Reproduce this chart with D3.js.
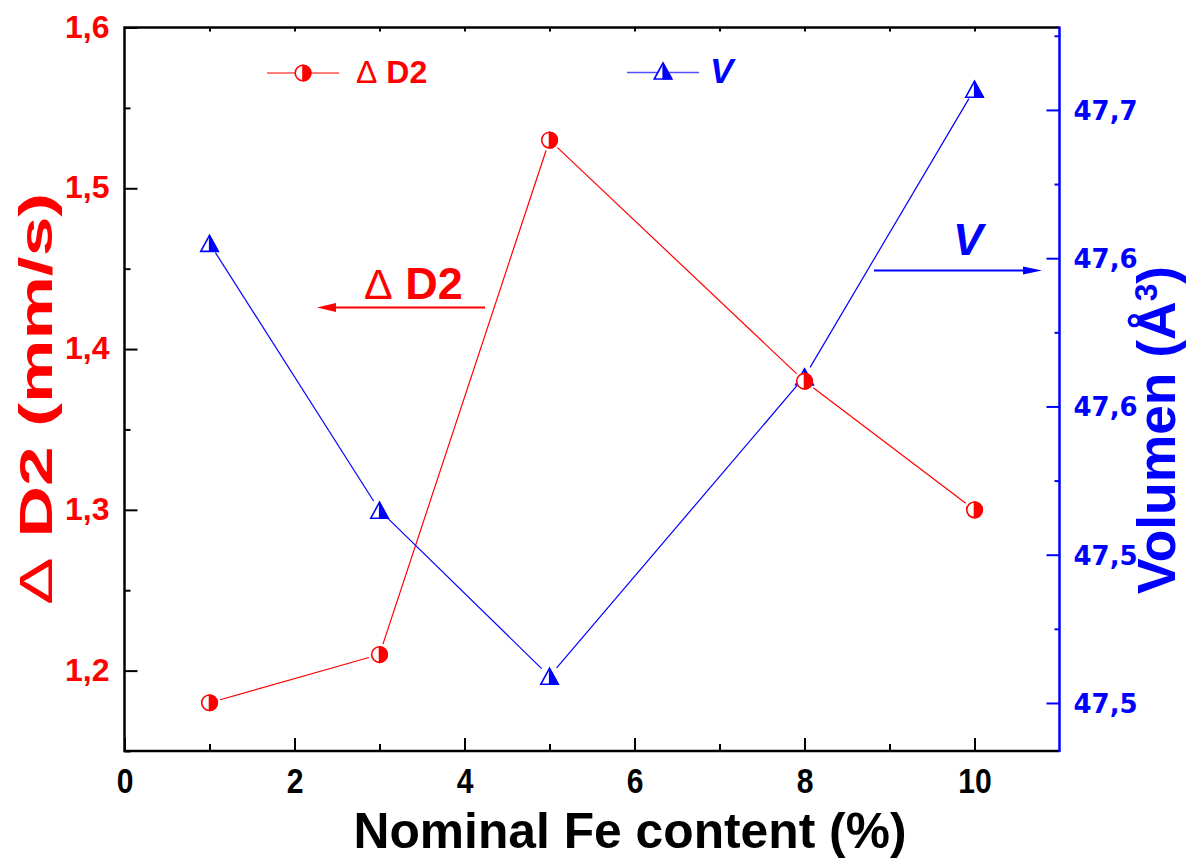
<!DOCTYPE html>
<html>
<head>
<meta charset="utf-8">
<script src="https://cdn.jsdelivr.net/npm/d3@7/dist/d3.min.js"></script>
<style>
  html, body { margin: 0; padding: 0; background: #fff; }
  svg { display: block; }
  text { font-family: "Liberation Sans", Arial, sans-serif; }
</style>
</head>
<body>
<svg id="chart" width="1192" height="860"></svg>
<script>
// Fe content of the samples (%)
const feContent = [1, 3, 5, 8, 10];
// Quadrupole splitting of doublet D2 (mm/s)
const deltaD2 = [1.18, 1.21, 1.53, 1.38, 1.30];
// Unit cell volume (Å³)
const volumen = [47.655, 47.565, 47.509, 47.610, 47.707];

// Axis ticks and labels
const xMajorTicks = [0, 2, 4, 6, 8, 10];
const xMinorTicks = [1, 3, 5, 7, 9];
const leftTicks = [1.2, 1.3, 1.4, 1.5, 1.6];
const leftTickLabels = ["1,2", "1,3", "1,4", "1,5", "1,6"];
const leftMinorTicks = [1.15, 1.25, 1.35, 1.45, 1.55];
const rightTicks = [47.50, 47.55, 47.60, 47.65, 47.70];
const rightTickLabels = ["47,5", "47,5", "47,6", "47,6", "47,7"];
const rightMinorTicks = [47.525, 47.575, 47.625, 47.675, 47.725];

const RED = "#ff0000";
const BLUE = "#0000ff";

const svg = d3.select("#chart");

const plotLeft = 124.5, plotRight = 1059.5, plotTop = 27.5, plotBottom = 751;

const x = d3.scaleLinear().domain([0, 11]).range([plotLeft, plotRight]);
const yL = d3.scaleLinear().domain([1.15, 1.6]).range([plotBottom, plotTop]);
const yR = d3.scaleLinear().domain([47.4838, 47.7278]).range([plotBottom, plotTop]);

// ---- axes ----
const xAxis = svg.append("g").attr("transform", `translate(0,${plotBottom})`)
  .call(d3.axisBottom(x).tickValues(xMajorTicks).tickSizeInner(-13).tickSizeOuter(0)
    .tickPadding(17).tickFormat(d3.format("d")));
xAxis.select(".domain").remove();
xAxis.selectAll("line").attr("stroke", "#000").attr("stroke-width", 2);
xAxis.selectAll("text").attr("fill", "#000").attr("transform", "scale(0.86,1)")
  .style("font-weight", "bold").style("font-size", "35px");

const xMinor = svg.append("g").attr("transform", `translate(0,${plotBottom})`)
  .call(d3.axisBottom(x).tickValues(xMinorTicks).tickSizeInner(-7).tickSizeOuter(0).tickFormat(""));
xMinor.select(".domain").remove();
xMinor.selectAll("line").attr("stroke", "#000").attr("stroke-width", 2);

// top axis: short inward ticks
const xTop = svg.append("g").attr("transform", `translate(0,${plotTop})`)
  .call(d3.axisTop(x).tickValues(d3.range(1, 11)).tickSizeInner(-4).tickSizeOuter(0).tickFormat(""));
xTop.select(".domain").remove();
xTop.selectAll("line").attr("stroke", "#000").attr("stroke-width", 2);

const yAxisL = svg.append("g").attr("transform", `translate(${plotLeft},0)`)
  .call(d3.axisLeft(yL).tickValues(leftTicks).tickSizeInner(-13).tickSizeOuter(0)
    .tickPadding(15).tickFormat((d, i) => leftTickLabels[i]));
yAxisL.select(".domain").remove();
yAxisL.selectAll("line").attr("stroke", "#000").attr("stroke-width", 2);
yAxisL.selectAll("text").attr("fill", RED).attr("dy", "0.3em")
  .style("font-weight", "bold").style("font-size", "32px");

const yMinorL = svg.append("g").attr("transform", `translate(${plotLeft},0)`)
  .call(d3.axisLeft(yL).tickValues(leftMinorTicks).tickSizeInner(-6).tickSizeOuter(0).tickFormat(""));
yMinorL.select(".domain").remove();
yMinorL.selectAll("line").attr("stroke", "#000").attr("stroke-width", 2);

const yAxisR = svg.append("g").attr("transform", `translate(${plotRight},0)`)
  .call(d3.axisRight(yR).tickValues(rightTicks).tickSizeInner(-13).tickSizeOuter(0)
    .tickPadding(14).tickFormat((d, i) => rightTickLabels[i]));
yAxisR.select(".domain").remove();
yAxisR.selectAll("line").attr("stroke", BLUE).attr("stroke-width", 2);
yAxisR.selectAll("text").attr("fill", BLUE).attr("dy", "0.36em")
  .style("font-family", "'DejaVu Sans', Verdana, sans-serif")
  .style("font-weight", "bold").style("font-size", "26px");

const yMinorR = svg.append("g").attr("transform", `translate(${plotRight},0)`)
  .call(d3.axisRight(yR).tickValues(rightMinorTicks.filter(v => yR(v) > plotTop + 2))
    .tickSizeInner(-5).tickSizeOuter(0).tickFormat(""));
yMinorR.select(".domain").remove();
yMinorR.selectAll("line").attr("stroke", BLUE).attr("stroke-width", 2);

// frame
svg.append("path")
  .attr("d", `M${plotRight},${plotTop}H${plotLeft}V${plotBottom}H${plotRight}`)
  .attr("fill", "none").attr("stroke", "#000").attr("stroke-width", 2.5);
svg.append("line")
  .attr("x1", plotRight).attr("x2", plotRight).attr("y1", plotTop - 1).attr("y2", plotBottom + 1)
  .attr("stroke", BLUE).attr("stroke-width", 2.5);

// ---- series ----
const GAP = 11;
function drawGappedLine(points, color) {
  const g = svg.append("g");
  for (let i = 0; i < points.length - 1; i++) {
    const [x1, y1] = points[i], [x2, y2] = points[i + 1];
    const len = Math.hypot(x2 - x1, y2 - y1);
    const ux = (x2 - x1) / len, uy = (y2 - y1) / len;
    g.append("line")
      .attr("x1", x1 + ux * GAP).attr("y1", y1 + uy * GAP)
      .attr("x2", x2 - ux * GAP).attr("y2", y2 - uy * GAP)
      .attr("stroke", color).attr("stroke-width", 1.2);
  }
}

function halfCircle(g, cx, cy, r, color) {
  g.append("circle").attr("cx", cx).attr("cy", cy).attr("r", r)
    .attr("fill", "#fff").attr("stroke", color).attr("stroke-width", 1.6);
  g.append("path")
    .attr("d", `M${cx},${cy - r}A${r},${r} 0 0 1 ${cx},${cy + r}Z`)
    .attr("fill", color).attr("stroke", color).attr("stroke-width", 1.6);
}

function halfTriangle(g, cx, cy, h, w, color) {
  const apex = [cx, cy - h / 2], bl = [cx - w / 2, cy + h / 2], br = [cx + w / 2, cy + h / 2];
  g.append("path")
    .attr("d", `M${apex}L${bl}L${br}Z`)
    .attr("fill", "#fff").attr("stroke", color).attr("stroke-width", 1.6).attr("stroke-linejoin", "miter");
  g.append("path")
    .attr("d", `M${apex}L${br}L${cx},${cy + h / 2}Z`)
    .attr("fill", color).attr("stroke", color).attr("stroke-width", 1.2);
}

const redPts = feContent.map((f, i) => [x(f), yL(deltaD2[i])]);
const bluePts = feContent.map((f, i) => [x(f), yR(volumen[i])]);

drawGappedLine(redPts, RED);
drawGappedLine(bluePts, BLUE);

const mkB = svg.append("g");
bluePts.forEach(([cx, cy]) => halfTriangle(mkB, cx, cy, 16, 17.5, BLUE));
const mkR = svg.append("g");
redPts.forEach(([cx, cy]) => halfCircle(mkR, cx, cy, 7.8, RED));

// ---- legend ----
const leg = svg.append("g");
leg.append("line").attr("x1", 267).attr("x2", 339).attr("y1", 73).attr("y2", 73)
  .attr("stroke", "#ff5050").attr("stroke-width", 1.5);
halfCircle(leg, 303, 73, 7.8, RED);
const legT1 = leg.append("text").attr("x", 356).attr("y", 83).attr("fill", RED)
  .style("font-size", "32px").style("font-weight", "bold");
legT1.append("tspan").style("font-weight", "normal").text("Δ");
legT1.append("tspan").text(" D2");

leg.append("line").attr("x1", 627).attr("x2", 699).attr("y1", 72.5).attr("y2", 72.5)
  .attr("stroke", "#5050ff").attr("stroke-width", 1.5);
halfTriangle(leg, 663, 71, 16, 17.5, BLUE);
leg.append("text").attr("x", 710).attr("y", 83).attr("fill", BLUE)
  .style("font-size", "35px").style("font-weight", "bold").style("font-style", "italic").text("V");

// ---- annotations ----
const ann = svg.append("g");
const annD2 = ann.append("text").attr("x", 364).attr("y", 299).attr("fill", RED)
  .style("font-size", "45px").style("font-weight", "bold");
annD2.append("tspan").style("font-weight", "normal").style("font-size", "43px").text("Δ");
annD2.append("tspan").text(" D2");
ann.append("line").attr("x1", 485).attr("x2", 330).attr("y1", 307.5).attr("y2", 307.5)
  .attr("stroke", RED).attr("stroke-width", 1.8);
ann.append("path").attr("d", "M317,307.5L336,303L336,312Z").attr("fill", RED);

ann.append("text").attr("x", 953).attr("y", 255).attr("fill", BLUE)
  .style("font-size", "45px").style("font-weight", "bold").style("font-style", "italic").text("V");
ann.append("line").attr("x1", 874).attr("x2", 1030).attr("y1", 270.5).attr("y2", 270.5)
  .attr("stroke", BLUE).attr("stroke-width", 1.8);
ann.append("path").attr("d", "M1042,270.5L1023,266.5L1023,274.5Z").attr("fill", BLUE);

// ---- axis titles ----
svg.append("text")
  .attr("x", 630).attr("y", 848).attr("text-anchor", "middle").attr("fill", "#000")
  .attr("textLength", 553).attr("lengthAdjust", "spacingAndGlyphs")
  .style("font-size", "50px").style("font-weight", "bold")
  .text("Nominal Fe content (%)");

const yTitleL = svg.append("text")
  .attr("transform", "translate(52,399) rotate(-90)")
  .attr("text-anchor", "middle").attr("fill", RED)
  .attr("textLength", 412).attr("lengthAdjust", "spacingAndGlyphs")
  .style("font-size", "47px").style("font-weight", "bold");
yTitleL.append("tspan").style("font-weight", "normal").text("Δ");
yTitleL.append("tspan").text(" D2 (mm/s)");

const yTitleR = svg.append("text")
  .attr("transform", "translate(1175,430) rotate(-90)")
  .attr("text-anchor", "middle").attr("fill", BLUE)
  .attr("textLength", 328).attr("lengthAdjust", "spacingAndGlyphs")
  .style("font-size", "54px").style("font-weight", "bold");
yTitleR.append("tspan").text("Volumen (Å");
yTitleR.append("tspan").attr("dy", "-0.55em").style("font-size", "32px").text("3");
yTitleR.append("tspan").attr("dy", "0.33em").text(")");
</script>
</body>
</html>
